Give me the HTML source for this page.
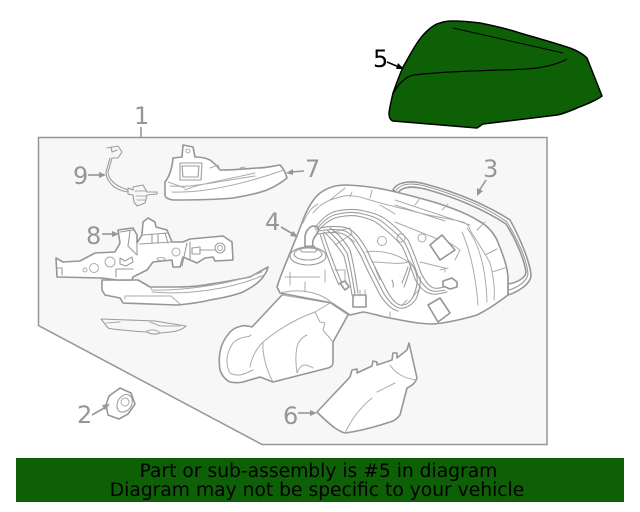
<!DOCTYPE html>
<html><head><meta charset="utf-8"><style>
html,body{margin:0;padding:0;background:#fff;width:640px;height:512px;overflow:hidden}
svg{display:block}
text{font-family:"DejaVu Sans","Liberation Sans",sans-serif}
.l{fill:#fff;stroke:#969696;stroke-width:1.6;stroke-linejoin:round;stroke-linecap:round}
.t{fill:none;stroke:#ababab;stroke-width:1;stroke-linecap:round;stroke-linejoin:round}
.m{fill:none;stroke:#9c9c9c;stroke-width:1.100;stroke-linecap:round;stroke-linejoin:round}
.n{fill:#969696;font-size:24px}
.a{stroke:#969696;stroke-width:1.6;fill:none}
.h{fill:#969696}
</style></head><body>
<svg width="640" height="512" viewBox="0 0 640 512" xmlns="http://www.w3.org/2000/svg">
<rect width="640" height="512" fill="#fff"/>
<path d="M38.500 137.500H547V444.500H262L38.500 325.500Z" fill="#f7f7f7" stroke="#969696" stroke-width="1.500"/>
<path d="M141 127V137" class="a"/>

<!-- 3 gasket -->
<path class="l" d="M393 190C397 182 410 180 425 184C460 193 490 207 510 220C520 238 530 262 531 275C531 285 515 293 508 295L508 284C516 283 526 278 526 272C524 258 515 238 506 224C485 210 455 197 425 189C412 186 402 186 398 193Z"/>
<path class="m" d="M396 190C402 183 412 183 425 186C460 196 488 208 507 222C518 240 527 260 528 274C527 282 516 288 509 290"/>

<!-- 4 arm -->
<path class="l" d="M282 295L252 327C248 326 245 325 242 326C236 327 233 329 230 332C224 339 221 345 220 352C219 358 219 364 220 370C222 376 226 380 230 382C235 383 239 383 243 382L260 377L273 382L328 368C332 367 333 365 333 362V342L348 315L362 311L380 300L300 280Z"/>
<path class="t" d="M251 335C249 337 247 337 245 337C240 338 236 340 233 343C229 349 227 354 227 360C227 366 228 370 230 373C233 375 236 375 240 375C245 374 249 372 253 370M273 382C267 371 262 355 263 342M250 367C252 356 257 348 263 342C280 328 298 318 315 312L320 322L325 323L323 330L333 342M330 303L315 312M307 335C302 337 298 342 297 347C295 356 296 365 297 373C299 368 302 365 305 365C308 365 311 367 313 368M282 295L330 303L348 315"/>

<!-- 4 main mirror -->
<path class="l" d="M280 293L277 287C282 270 290 255 303 220C308 207 314 198 320 193C330 186 338 185 347 185C365 186 378 188 387 190C405 194 420 198 437 203C455 209 468 214 477 220C487 225 493 232 497 240C503 255 507 265 508 277L508 295C495 305 487 310 477 315C460 320 445 323 433 324C420 324 405 321 390 318C382 317 372 313 363 312L350 315L332 303Z"/>
<path class="t" d="M313 213C320 204 328 200 337 198C345 195 352 194 370 200C390 206 405 209 420 213C440 218 452 219 463 222C468 224 470 228 470 230C478 243 485 253 490 263C494 278 495 290 494 300M303 223C308 212 312 207 318 204M330 200L345 188M352 192L350 197M372 190L370 198M415 205L420 198M442 210L448 204M477 230L485 222M485 255L497 249M492 272L505 268M467 228C480 245 486 270 487 302M462 232C472 255 476 280 478 305M395 200L470 225M395 205L445 221M395 222L440 240M380 205L395 214M390 312V318M333 232L350 228L352 234L335 245M345 235L355 242M402 305L407 300M412 298L420 288M280 293C300 288 320 292 332 303"/>
<circle cx="382" cy="241" r="4.500" class="t"/><circle cx="401" cy="238" r="4" class="t"/><circle cx="422" cy="238" r="4" class="t"/>
<path class="l" d="M430 245L442 235L455 250L440 260Z"/><path class="l" d="M428 305L440 298L450 313L438 322Z"/>
<path class="t" d="M450 243L460 250L455 260M420 262L445 268L445 272M440 270L448 268M366 252C375 250 395 252 408 262C400 265 385 262 372 262M375 268L380 280M335 270H345V280M285 277H320M290 285V272M305 282V292M325 270V282"/>
<ellipse cx="308" cy="256" rx="18" ry="9" class="m"/><ellipse cx="308" cy="254" rx="14" ry="6" class="m"/>
<path class="l" d="M305 247V238C305 232 309 226 314 226C318 226 320 229 317 234C313 238 312 243 313 247Z"/>
<path class="m" d="M300 249L306 246L314 246L317 250L315 252H302Z"/>
<g class="m">
<path d="M315 228C322 218 330 212 337 211C347 209 357 209 364 211C375 213 382 216 388 221C397 228 403 234 408 240C413 250 417 262 421 273C425 281 429 287 434 288C437 289 440 288 444 287"/>
<path d="M316 230C323 221 331 215 338 214C347 212 356 212 363 214C373 216 380 219 385 224C394 231 400 237 405 243C410 253 414 265 418 276C422 284 427 290 433 291C437 292 441 291 445 290"/>
<path d="M317 232C324 224 332 218 339 217C348 215 355 215 362 217C371 219 377 222 382 227C391 234 397 240 402 246C407 256 411 268 415 279C419 287 425 293 432 294C437 295 442 293 447 292"/>
<path d="M320 228C330 226 340 226 347 228C355 231 361 240 367 250C372 262 378 273 383 283C388 294 394 303 400 305C406 306 410 302 413 297C416 290 418 283 417 277C416 270 412 264 408 260"/>
<path d="M319 231C329 229 339 229 345 231C353 234 358 243 364 253C369 265 375 276 380 286C385 297 392 306 399 308C406 309 412 305 416 299C419 292 421 284 420 277"/>
<path d="M318 234C328 232 338 232 343 234C351 237 355 246 361 256C366 268 372 279 377 289C382 300 390 309 398 311"/>
<path d="M330 228C338 233 345 242 350 250C354 265 356 280 358 293"/>
<path d="M327 230C335 236 342 245 347 253C351 268 353 282 355 295"/>
<path d="M324 232C332 239 339 248 344 256C347 268 350 282 352 295"/>
<path d="M323 233C328 248 335 268 342 283"/>
<path d="M320 234C325 250 332 270 339 285"/>
<path d="M392 280C393 283 394 285 393 287M408 267C406 273 404 278 402 283M411 265C409 272 407 280 404 287"/>
</g>
<path class="l" d="M353 295H366V307H353Z"/><path class="t" d="M355 291V296M360 290V296M365 290V296"/>
<path class="l" d="M340 283L345 281L349 287L345 290Z"/>
<path class="l" d="M443 281L452 278L457 282V287L450 289L443 286Z"/>

<!-- 9 wire -->
<path class="m" d="M107 148L118 146L122 152L118 158H112L108 172C108 176 110 179 113 182C117 186 122 188 128 190"/>
<path class="m" d="M110 158L106 172C106 178 109 182 112 185C116 189 122 191 128 192M111 147L112 152L117 150"/>
<path class="m" d="M128 188L133 190V187L143 185L147 192L157 192V194L147 195L145 203L137 206L134 202L133 195L128 194Z"/>
<path class="t" d="M135 191H146M136 196H146M137 200H145"/>

<!-- 7 -->
<path class="l" d="M173 158L182 157L183 145L193 147L195 157C201 157 206 158 210 160C214 163 218 167 220 170C232 170 245 169 257 168C266 168 273 166 280 165C284 169 286 174 287 178C281 183 274 187 267 190C256 194 245 196 233 198C213 200 193 200 173 200C167 199 165 197 165 195V182C169 177 172 170 173 158Z"/>
<path class="m" d="M180 163H202L201 180H180ZM182 166H199L198 177H183Z"/>
<path class="t" d="M170 186C190 188 215 182 255 176M172 192C200 193 235 187 284 170M185 190C198 184 225 180 255 173M210 168L218 165L220 170M240 168L245 167M168 182L185 188"/>
<circle cx="188" cy="151" r="2" class="t"/>

<!-- lens strip -->
<path class="l" d="M102 280L138 280L150 287C160 287 170 287 177 287C195 287 205 285 217 283C230 281 240 279 250 277L268 267C267 272 265 274 263 277C258 284 250 288 243 292C233 296 222 298 210 300C198 303 188 304 177 305L123 303L120 298L105 295L102 290Z"/>
<path class="t" d="M150 287L152 290C180 291 230 285 262 272M152 292C185 295 230 290 264 275M125 299V296H171L180 304"/>

<!-- 8 -->
<path class="l" d="M56 258L63 262L80 261L95 253L115 252L120 243L118 230L133 228L137 235V243L142 235L143 222L148 218L155 222L156 227L167 230L172 242H183L190 239L223 236L232 242L233 260L215 261L213 257L205 258L197 263L190 260L183 257L180 267H173L172 260L153 262L147 270L133 277L132 280H117L102 278L57 277Z"/>
<path class="m" d="M120 232L133 230M130 231L128 246L137 255M137 243L137 255M143 235L168 233M140 244L172 242M152 235V243M158 234V243M165 233L168 243M187 243L182 266M190 242V260M192 248L200 247V254L192 254ZM200 250H214M62 268V275M57 268H62M116 277V269H133"/>
<circle cx="220" cy="248" r="5" class="m"/><circle cx="220" cy="248" r="2.500" class="t"/>
<circle cx="176" cy="252" r="4" class="t"/><circle cx="110" cy="262" r="5" class="t"/><circle cx="94" cy="268" r="4.500" class="t"/><circle cx="85" cy="270" r="2" class="t"/>
<path class="m" d="M120 258L125 261L132 257L133 262L126 266L120 264Z"/>
<ellipse cx="161" cy="259" rx="4" ry="1.500" class="t"/>

<path class="m" d="M101 319L155 321L186 326C180 332 170 332 160 333C155 335 150 334 147 332C130 331 110 329 108 328Z"/>
<path class="t" d="M106 323L120 322M150 322L160 326H180M147 331C152 329 158 330 160 333"/>

<!-- 6 -->
<path class="l" d="M317 412L350 377L352 370L357 369V373L372 366L373 361L377 362V365L392 360L393 353L397 353V358L407 350L409 343L417 378C415 384 411 386 407 388L400 415C397 419 394 421 390 422C375 427 360 431 345 433C341 432 338 430 335 428C328 423 322 417 317 412Z"/>
<path class="t" d="M345 433C352 418 362 406 372 398M377 392L395 383M390 365C396 374 404 378 416 380"/>

<!-- nut 2 -->
<path class="l" d="M109 396L120 388L131 393L135 404L128 414L119 419L108 415L106 405Z"/>
<path class="m" d="M117 406C117 398 124 393 129 395C134 398 133 406 128 410C122 414 117 412 117 406Z"/>
<circle cx="125" cy="402" r="4" class="t"/>

<!-- numbers and arrows -->
<text class="n" x="134" y="124">1</text>
<text class="n" x="77" y="423">2</text>
<path class="a" d="M92 415L106 407"/><path class="h" d="M110 404L105 410L102 405Z"/>
<text class="n" x="483" y="177">3</text>
<path class="a" d="M486 180L479 191"/><path class="h" d="M477 196L477 188L483 191Z"/>
<text class="n" x="265" y="230">4</text>
<path class="a" d="M281 227L293 234"/><path class="h" d="M298 237L290 236L293 231Z"/>
<text class="n" x="283" y="424">6</text>
<path class="a" d="M298 413H311"/><path class="h" d="M317 413L310 410V416Z"/>
<text class="n" x="305" y="177">7</text>
<path class="a" d="M304 171L291 172"/><path class="h" d="M286 173L293 169V175Z"/>
<text class="n" x="86" y="244">8</text>
<path class="a" d="M102 234H113"/><path class="h" d="M119 234L112 231V237Z"/>
<text class="n" x="73" y="184">9</text>
<path class="a" d="M88 175H100"/><path class="h" d="M106 175L99 172V178Z"/>

<!-- 5 green -->
<path d="M389 113C390 105 392 98 393 93C396 85 399 76 403 67C410 55 417 41 425 33C430 28 435 24 440 23C445 21 449 21 453 21C462 21 472 22 480 23C495 26 508 29 520 33C537 38 555 43 570 48C578 51 583 54 587 58L602 96C595 101 587 104 577 108C570 111 563 114 557 115L483 124C481 125 479 127 477 128L393 121C390 120 389 117 389 113Z" fill="#0e6006" stroke="#000" stroke-width="1.500" stroke-linejoin="round"/>
<path d="M453 28L563 53" fill="none" stroke="#000" stroke-width="1"/>
<path d="M393 94C398 84 406 76 414 75C440 72 470 71 500 70C520 69.500 530 69 537 68C550 66 560 63 567 59" fill="none" stroke="#000" stroke-width="1.200"/>
<text x="373" y="67" font-size="24" fill="#000">5</text>
<path d="M387 62L399 67" stroke="#000" stroke-width="1.500" fill="none"/><path d="M404 69L396 69L398 63Z" fill="#000"/>

<!-- banner -->
<rect x="16" y="458" width="608" height="44" fill="#0e6006"/>
<text x="318.500" y="477" font-size="18.700" text-anchor="middle" fill="#000">Part or sub-assembly is #5 in diagram</text>
<text x="317" y="496" font-size="18.700" text-anchor="middle" fill="#000">Diagram may not be specific to your vehicle</text>
</svg>
</body></html>
